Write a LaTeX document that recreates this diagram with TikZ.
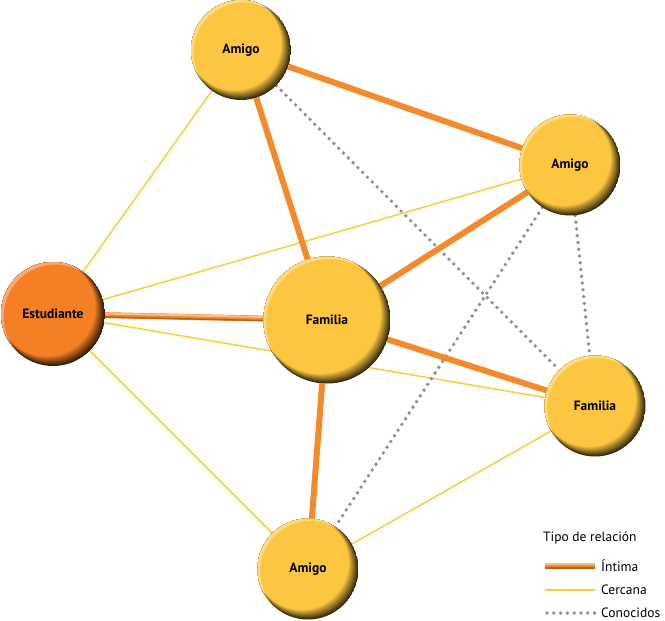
\documentclass[tikz,border=0pt]{standalone}
\usepackage{fontspec}
\setmainfont{PT Sans}
\usepackage{tikz}
\usetikzlibrary{backgrounds}

% Colores
\definecolor{amarillo}{HTML}{FCC640}
\definecolor{naranja}{HTML}{F47F24}
\definecolor{lineanaranja}{HTML}{F58A2B}
\definecolor{lineaamarilla}{HTML}{FDCB3C}
\definecolor{gris}{HTML}{8F8F95}

\tikzset{
  % boton redondo: borde oscuro abajo a la derecha, claro arriba a la izquierda
  bola/.style 2 args={circle, minimum size=#1, inner sep=0pt,
    font=\bfseries\fontsize{13.5}{15}\selectfont,
    path picture={
      \foreach \k in {0,...,10} {
        \pgfmathtruncatemacro\mezcla{22+7.8*\k}
        \fill[#2!\mezcla!black]
          ([shift={({-0.65pt*\k},{0.65pt*\k})}]path picture bounding box.center)
          circle ({#1/2-0.3pt*\k});
      }
      \fill[white,opacity=.35,even odd rule]
        (path picture bounding box.center) circle (#1)
        ([shift={(2.5pt,-2.5pt)}]path picture bounding box.center) circle (#1/2);}},
  intima/.style={lineanaranja, line width=6pt},
  tubo/.style={line width=6pt, lineanaranja,
    postaction={draw, line width=2pt, lineanaranja!55!white, transform canvas={yshift=1.6pt}},
    postaction={draw, line width=1.4pt, lineanaranja!72!black, transform canvas={yshift=-1.9pt}}},
  cercana/.style={lineaamarilla, line width=1.5pt},
  conocidos/.style={gris, line width=3.8pt, line cap=round, dash pattern=on 0pt off 6.8pt},
  leyenda/.style={anchor=west, inner sep=0pt, font=\fontsize{13.5}{15}\selectfont}
}

\begin{document}
\begin{tikzpicture}[x=1pt,y=-1pt]
  \useasboundingbox (0,0) rectangle (665,621);

  % Nodos de la red
  \node[bola={100pt}{amarillo}] (amigoA) at (241,50) {Amigo};
  \node[bola={101pt}{amarillo}] (amigoB) at (570,165) {Amigo};
  \node[bola={104pt}{naranja}] (est) at (53,314) {Estudiante};
  \node[bola={127pt}{amarillo}] (famA) at (327,320) {Familia};
  \node[bola={101pt}{amarillo}] (famB) at (595,406) {Familia};
  \node[bola={101pt}{amarillo}] (amigoC) at (308,569) {Amigo};

  \begin{pgfonlayer}{background}
    % Relaciones cercanas
    \foreach \a/\b in {est/amigoA, est/amigoB, est/famB, est/amigoC, famB/amigoC}
      \draw[cercana] (\a) -- (\b);
    % Conocidos
    \foreach \a/\b in {amigoA/famB, amigoB/famB, amigoB/amigoC}
      \draw[conocidos] (\a) -- (\b);
    % Relaciones intimas
    \foreach \a/\b in {amigoA/famA, amigoA/amigoB, famA/amigoB, famA/famB, famA/amigoC}
      \draw[intima] (\a) -- (\b);
    \draw[tubo] (est) -- (famA);
  \end{pgfonlayer}

  % Leyenda
  \node[leyenda] (titulo) at (543,538) {Tipo de relación};
  \coordinate (i1) at (545,566);
  \coordinate (i2) at (595,566);
  \coordinate (c1) at (545,590);
  \coordinate (c2) at (595,590);
  \coordinate (k1) at (547,613);
  \coordinate (k2) at (597,613);
  \draw[tubo] (i1) -- (i2);
  \draw[cercana] (c1) -- (c2);
  \draw[conocidos] (k1) -- (k2);
  \node[leyenda] (lint) at (601,566) {Íntima};
  \node[leyenda] (lcer) at (601,590) {Cercana};
  \node[leyenda] (lcon) at (601,613) {Conocidos};
\end{tikzpicture}
\end{document}
